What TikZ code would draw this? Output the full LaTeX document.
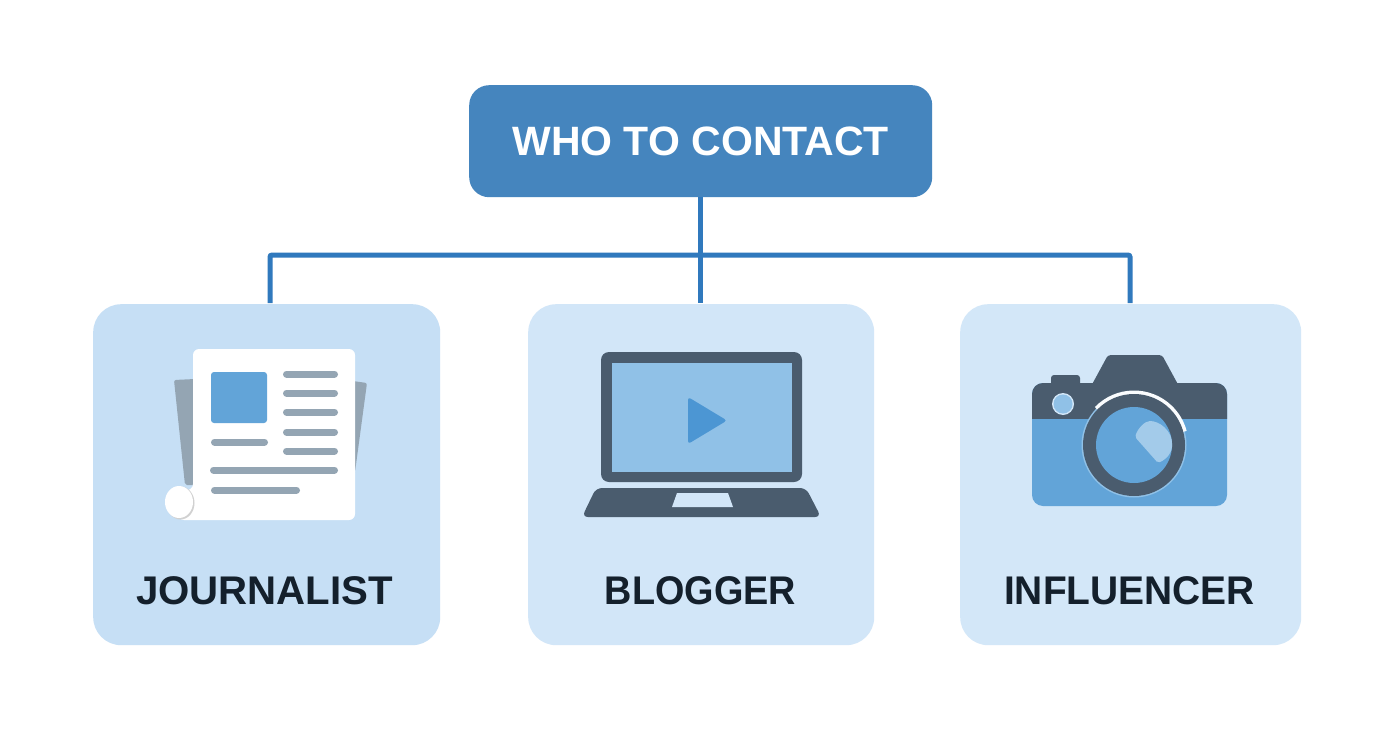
\documentclass[tikz,border=0pt]{standalone}
\usepackage{fontspec}
\setmainfont{Liberation Sans}
\definecolor{rootc}{HTML}{4585BE}
\definecolor{linec}{HTML}{3079BD}
\definecolor{boxj}{HTML}{C6DFF5}
\definecolor{boxb}{HTML}{D2E6F8}
\definecolor{boxi}{HTML}{D3E7F8}
\definecolor{darkc}{HTML}{4A5C6E}
\definecolor{bluec}{HTML}{62A4D8}
\definecolor{screenc}{HTML}{90C1E7}
\definecolor{playc}{HTML}{4C96D3}
\definecolor{glarec}{HTML}{A3CBEA}
\definecolor{greyc}{HTML}{94A5B3}
\definecolor{textc}{HTML}{14202C}
\tikzset{
  x=1pt,y=-1pt,
  card/.style={anchor=north west,inner sep=0pt,rounded corners=28pt},
  cardlabel/.style={text=textc,font=\bfseries\fontsize{40}{48}\selectfont,inner sep=0pt,anchor=center},
  rootbox/.style={anchor=north west,inner sep=0pt,rounded corners=20pt,fill=rootc,minimum width=463pt,minimum height=112pt,text=white,font=\bfseries\fontsize{41}{48}\selectfont},
  wire/.style={draw=linec,line width=5pt,rounded corners=2pt},
  textline/.style={draw=greyc,line width=7pt,line cap=round},
}
\begin{document}
\begin{tikzpicture}
\useasboundingbox (0,0) rectangle (1392,752);
\fill[white] (0,0) rectangle (1392,752);
% cards
\node[card,fill=boxj,minimum width=347pt,minimum height=341pt] (jbox) at (93,304) {};
\node[card,fill=boxb,minimum width=346pt,minimum height=341pt] (bbox) at (528,304) {};
\node[card,fill=boxi,minimum width=341pt,minimum height=341pt] (ibox) at (960,304) {};
\node[rootbox] (root) at (469,85) {\raisebox{-1pt}{WHO TO CONTACT}};
\coordinate (jtop) at (270,303);
\coordinate (btop) at (700.5,303);
\coordinate (itop) at (1130,303);
\coordinate (rootdown) at (700.5,197);
% connectors
\draw[wire] (jtop) -- (270,255) -- (1130,255) -- (itop);
\draw[wire,rounded corners=0pt] (rootdown) -- (btop);
% labels
\node[cardlabel] (jlabel) at (264.5,591) {\scalebox{1.005}[1]{JOURNALIST}};
\node[cardlabel] (blabel) at (700.5,591) {\scalebox{0.945}[1]{BLOGGER}};
\node[cardlabel] (ilabel) at (1129.5,591) {\scalebox{0.973}[1]{INFLUENCER}};
% newspaper icon
\fill[greyc,rounded corners=2pt] (174,380) -- (195,379) -- (195,485) -- (185,485) -- cycle;
\fill[greyc,rounded corners=2pt] (353,381) -- (367,383) -- (355,472) -- (353,472) -- cycle;
\fill[white,rounded corners=6pt] (193,349) -- (355,349) -- (355,520) -- (178,520) -- (178,490) -- (193,490) -- cycle;
\fill[black!18] (180.5,503) ellipse (14 and 16.5);
\fill[white] (179,502) ellipse (14 and 16);
\fill[bluec,rounded corners=3pt] (211,372) rectangle (267,423);
\foreach \yy in {374,393,412,432,451} \draw[textline] (286.5,\yy) -- (334.5,\yy);
\draw[textline] (214.5,442) -- (264.5,442);
\draw[textline] (213.5,470) -- (334.5,470);
\draw[textline] (214.5,490) -- (296.5,490);
% laptop icon
\fill[darkc,rounded corners=8pt] (601,352) rectangle (802,482);
\fill[screenc] (612,363) rectangle (792,472);
\fill[playc,rounded corners=3pt] (688,397) -- (727,420.5) -- (688,444) -- cycle;
\fill[darkc,rounded corners=6pt] (596,488) -- (806,488) -- (821,517) -- (582,517) -- cycle;
\fill[boxb] (677,493) -- (728,493) -- (733,507) -- (672,507) -- cycle;
% camera icon
\fill[darkc,rounded corners=3pt] (1051,375) rectangle (1080,390);
\fill[darkc,rounded corners=3pt] (1089,390) -- (1108,355) -- (1162,355) -- (1181,390) -- cycle;
\fill[bluec,rounded corners=11pt] (1032,383) rectangle (1227,506);
\begin{scope}
\clip (1032,383) rectangle (1227,418);
\fill[darkc,rounded corners=11pt] (1032,383) rectangle (1227,506);
\end{scope}
\fill[boxi] (1063,404) circle (11);
\fill[screenc] (1063,404) circle (9.5);
\fill[screenc] (1134,445) circle (52.5);
\draw[white!90!boxb,line width=4pt] (1134,445) ++(-136:52.5) arc[start angle=-136,end angle=-15,radius=52.5];
\fill[darkc] (1134,445) circle (51);
\fill[bluec] (1134,445) circle (38);
\fill[glarec,rounded corners=2pt] (1135,437) .. controls (1138,428) and (1145,421) .. (1152,421)
  .. controls (1164,424) and (1172,434) .. (1172,445)
  .. controls (1172,452) and (1167,459) .. (1158,463) -- cycle;
\end{tikzpicture}
\end{document}
